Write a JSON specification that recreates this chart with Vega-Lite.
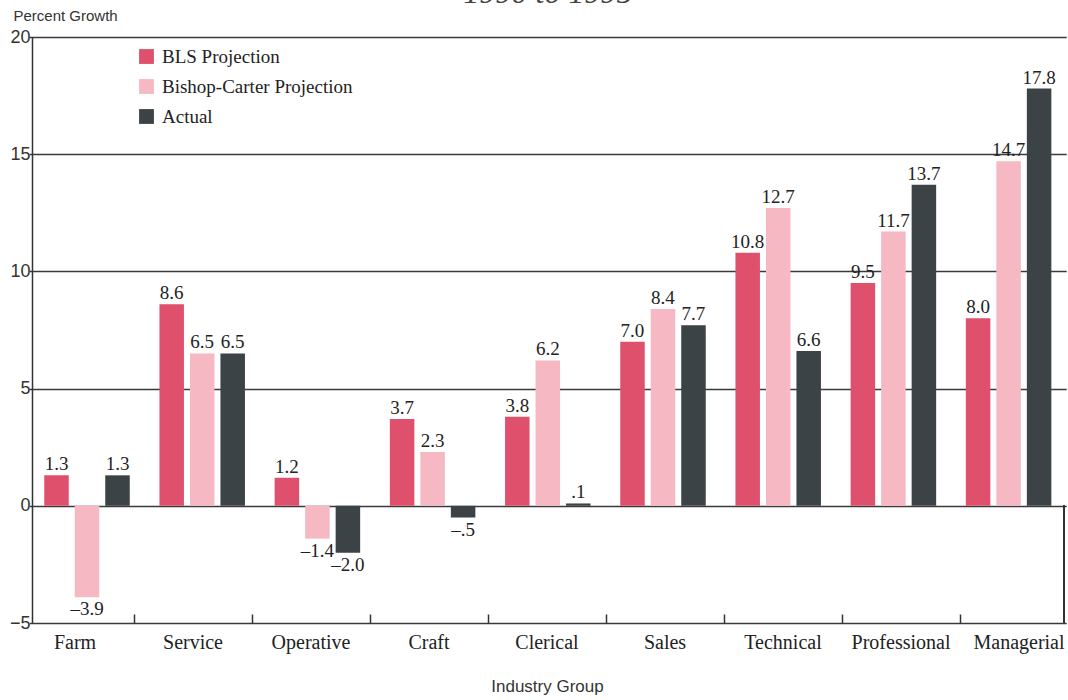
{
  "$schema": "https://vega.github.io/schema/vega-lite/v6.json",
  "width": 1032,
  "height": 586,
  "autosize": {"type": "none"},
  "padding": {"left": 32, "top": 37, "right": 4, "bottom": 77},
  "background": "white",
  "title": {
    "text": "1990 to 1995",
    "font": "Liberation Serif",
    "fontStyle": "italic",
    "fontWeight": "normal",
    "fontSize": 32,
    "color": "#444444",
    "anchor": "middle",
    "offset": -2
  },
  "config": {
    "view": {"stroke": null}
  },
  "data": {
    "values": [
      {"group": "Farm", "series": "BLS Projection", "value": 1.3, "label": "1.3"},
      {"group": "Farm", "series": "Bishop-Carter Projection", "value": -3.9, "label": "–3.9"},
      {"group": "Farm", "series": "Actual", "value": 1.3, "label": "1.3"},
      {"group": "Service", "series": "BLS Projection", "value": 8.6, "label": "8.6"},
      {"group": "Service", "series": "Bishop-Carter Projection", "value": 6.5, "label": "6.5"},
      {"group": "Service", "series": "Actual", "value": 6.5, "label": "6.5"},
      {"group": "Operative", "series": "BLS Projection", "value": 1.2, "label": "1.2"},
      {"group": "Operative", "series": "Bishop-Carter Projection", "value": -1.4, "label": "–1.4"},
      {"group": "Operative", "series": "Actual", "value": -2.0, "label": "–2.0"},
      {"group": "Craft", "series": "BLS Projection", "value": 3.7, "label": "3.7"},
      {"group": "Craft", "series": "Bishop-Carter Projection", "value": 2.3, "label": "2.3"},
      {"group": "Craft", "series": "Actual", "value": -0.5, "label": "–.5"},
      {"group": "Clerical", "series": "BLS Projection", "value": 3.8, "label": "3.8"},
      {"group": "Clerical", "series": "Bishop-Carter Projection", "value": 6.2, "label": "6.2"},
      {"group": "Clerical", "series": "Actual", "value": 0.1, "label": ".1"},
      {"group": "Sales", "series": "BLS Projection", "value": 7.0, "label": "7.0"},
      {"group": "Sales", "series": "Bishop-Carter Projection", "value": 8.4, "label": "8.4"},
      {"group": "Sales", "series": "Actual", "value": 7.7, "label": "7.7"},
      {"group": "Technical", "series": "BLS Projection", "value": 10.8, "label": "10.8"},
      {"group": "Technical", "series": "Bishop-Carter Projection", "value": 12.7, "label": "12.7"},
      {"group": "Technical", "series": "Actual", "value": 6.6, "label": "6.6"},
      {"group": "Professional", "series": "BLS Projection", "value": 9.5, "label": "9.5"},
      {"group": "Professional", "series": "Bishop-Carter Projection", "value": 11.7, "label": "11.7"},
      {"group": "Professional", "series": "Actual", "value": 13.7, "label": "13.7"},
      {"group": "Managerial", "series": "BLS Projection", "value": 8.0, "label": "8.0"},
      {"group": "Managerial", "series": "Bishop-Carter Projection", "value": 14.7, "label": "14.7"},
      {"group": "Managerial", "series": "Actual", "value": 17.8, "label": "17.8"}
    ]
  },
  "encoding": {
    "y": {
      "field": "value",
      "type": "quantitative",
      "scale": {"domain": [-5, 20], "nice": false, "zero": false},
      "axis": {
        "values": [-5, 0, 5, 10, 15, 20],
        "title": "Percent Growth",
        "titleAngle": 0,
        "titleAlign": "left",
        "titleBaseline": "middle",
        "titleX": -19,
        "titleY": -22,
        "titleFont": "Liberation Sans",
        "titleFontSize": 15,
        "titleFontWeight": "normal",
        "titleColor": "#333333",
        "labelFont": "Liberation Sans",
        "labelFontSize": 18,
        "labelColor": "#333333",
        "labelPadding": 2,
        "tickSize": 0,
        "domain": true,
        "domainColor": "#333333",
        "domainWidth": 1.5,
        "grid": true,
        "gridColor": "#3a3a3a",
        "gridWidth": 1.5,
        "gridOpacity": 1
      }
    }
  },
  "layer": [
    {
      "encoding": {
        "x": {
          "field": "group",
          "type": "nominal",
          "sort": null,
          "scale": {"range": [-2.6, 1034.2], "paddingInner": 0.2057, "paddingOuter": 0.1029},
          "axis": null
        },
        "xOffset": {
          "field": "series",
          "type": "nominal",
          "sort": ["BLS Projection", "Bishop-Carter Projection", "Actual"],
          "scale": {"paddingInner": 0.1967, "paddingOuter": 0.0984}
        }
      },
      "layer": [
        {
          "mark": {"type": "bar", "stroke": null},
          "encoding": {
            "color": {
              "field": "series",
              "type": "nominal",
              "scale": {
                "domain": ["BLS Projection", "Bishop-Carter Projection", "Actual"],
                "range": ["#df506d", "#f6b8c3", "#3b4346"]
              },
              "legend": {
                "orient": "none",
                "legendX": 105,
                "legendY": 10,
                "title": null,
                "symbolType": "square",
                "symbolSize": 220,
                "symbolStrokeWidth": 0,
                "labelFont": "Liberation Serif",
                "labelFontSize": 19,
                "labelColor": "#222222",
                "labelLimit": 0,
                "labelOffset": 6,
                "rowPadding": 10
              }
            }
          }
        },
        {
          "transform": [{"filter": "datum.value >= 0"}],
          "mark": {
            "type": "text",
            "baseline": "alphabetic",
            "dy": -5,
            "font": "Liberation Serif",
            "fontSize": 19,
            "color": "#222222"
          },
          "encoding": {"text": {"field": "label"}}
        },
        {
          "transform": [{"filter": "datum.value < 0"}],
          "mark": {
            "type": "text",
            "baseline": "top",
            "dy": 3,
            "font": "Liberation Serif",
            "fontSize": 19,
            "color": "#222222"
          },
          "encoding": {"text": {"field": "label"}}
        }
      ]
    },
    {
      "mark": {"type": "rule", "opacity": 0},
      "encoding": {
        "x": {
          "field": "group",
          "type": "nominal",
          "sort": null,
          "scale": {"range": [-16, 1046], "paddingInner": 0, "paddingOuter": 0},
          "axis": {
            "orient": "bottom",
            "title": "Industry Group",
            "titleFont": "Liberation Sans",
            "titleFontSize": 17,
            "titleFontWeight": "normal",
            "titleColor": "#333333",
            "titlePadding": 26,
            "labelFont": "Liberation Serif",
            "labelFontSize": 20,
            "labelColor": "#222222",
            "labelAngle": 0,
            "labelPadding": 18,
            "bandPosition": 0,
            "domain": false,
            "tickSize": -9,
            "tickWidth": 1.5,
            "tickColor": "#333333",
            "tickOpacity": {"condition": {"test": "datum.value === 'Farm'", "value": 0}, "value": 1}
          }
        },
        "y": {"datum": -5},
        "y2": {"datum": -5}
      }
    },
    {
      "mark": {"type": "rule", "color": "#333333", "strokeWidth": 1.5},
      "encoding": {
        "x": {"value": "width"},
        "y": {"datum": 0},
        "y2": {"datum": -5}
      }
    }
  ],
  "resolve": {"scale": {"x": "independent"}}
}
